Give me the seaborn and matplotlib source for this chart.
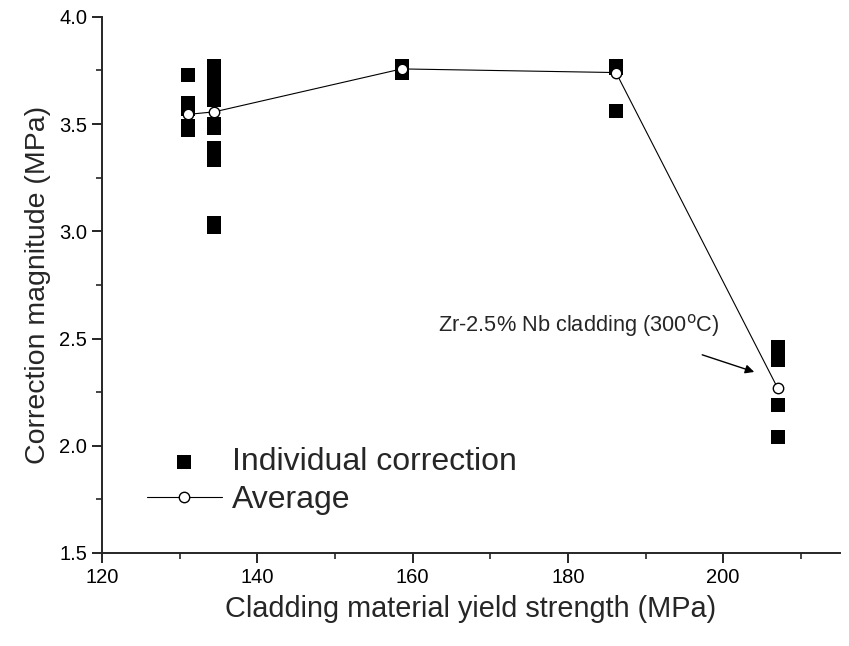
import numpy as np
import pandas as pd
import matplotlib
matplotlib.use('Agg')
import matplotlib.pyplot as plt
from matplotlib.ticker import MultipleLocator
import seaborn as sns

# individual corrections, grouped by cladding yield strength (MPa)
x_131 = 131.1
y_131 = [3.73, 3.60, 3.57, 3.49, 3.47]
x_134 = 134.5
y_134 = [3.77, 3.76, 3.75, 3.73, 3.71, 3.69, 3.67, 3.65, 3.63, 3.61,
         3.50, 3.48, 3.39, 3.33, 3.04, 3.02]
x_158 = 158.6
y_158 = [3.77, 3.74]
x_186 = 186.2
y_186 = [3.77, 3.76, 3.56]
x_207 = 207.0
y_207 = [2.46, 2.40, 2.19, 2.04]

# averages
avg_x = [131.1, 134.5, 158.6, 186.2, 207.0]
avg_y = [3.545, 3.557, 3.757, 3.74, 2.27]

groups = [(x_131, y_131), (x_134, y_134), (x_158, y_158),
          (x_186, y_186), (x_207, y_207)]
indiv = pd.DataFrame({
    'strength': [gx for gx, gy in groups for _ in gy],
    'correction': [v for gx, gy in groups for v in gy],
})
avg = pd.DataFrame({'strength': avg_x, 'correction': avg_y})

sns.set_style('ticks')
plt.rcParams['font.family'] = ['Liberation Sans', 'DejaVu Sans']

fig = plt.figure(figsize=(8.49, 6.46), dpi=100)
ax = fig.add_axes([0.120, 0.144, 0.869, 0.830])

sns.scatterplot(data=indiv, x='strength', y='correction', marker='s',
                color='black', s=90, edgecolor='black', linewidth=0,
                label='Individual correction', ax=ax, zorder=2)
sns.lineplot(data=avg, x='strength', y='correction', color='black',
             linewidth=0.8, marker='o', markersize=7.5,
             markerfacecolor='white', markeredgecolor='black',
             markeredgewidth=1.0, label='Average', ax=ax, zorder=3)

# label for the Zr-2.5% Nb point, arrow drawn separately
ax.text(199.5, 2.56, 'Zr-2.5% Nb cladding (300$^{\\mathrm{o}}$C)',
        fontsize=15.7, ha='right', va='center')
ax.annotate('', xy=(204.0, 2.344), xytext=(197.3, 2.424),
            arrowprops=dict(arrowstyle='-|>', color='black', lw=1.0,
                            mutation_scale=13, shrinkA=0, shrinkB=0))

ax.set_xlim(120, 215)
ax.set_ylim(1.5, 4.0)
ax.xaxis.set_major_locator(MultipleLocator(20))
ax.xaxis.set_minor_locator(MultipleLocator(10))
ax.yaxis.set_major_locator(MultipleLocator(0.5))
ax.yaxis.set_minor_locator(MultipleLocator(0.25))
ax.yaxis.set_major_formatter(matplotlib.ticker.FormatStrFormatter('%.1f'))
ax.tick_params(which='major', direction='out', length=7, width=1.2,
               labelsize=14.5, colors='black')
ax.tick_params(which='minor', direction='out', length=4, width=1.2)
for side in ['top', 'right']:
    ax.spines[side].set_visible(False)
for side in ['left', 'bottom']:
    ax.spines[side].set_linewidth(1.4)

ax.set_xlabel('Cladding material yield strength (MPa)', fontsize=20.8, labelpad=6)
ax.set_ylabel('Correction magnitude (MPa)', fontsize=20.5, labelpad=6)

ax.legend(loc='lower left', bbox_to_anchor=(0.061, 0.07), frameon=False,
          fontsize=23, handlelength=2.35, handletextpad=0.3,
          labelspacing=0.25, borderaxespad=0, borderpad=0)

fig.savefig('out.png', dpi=100)
